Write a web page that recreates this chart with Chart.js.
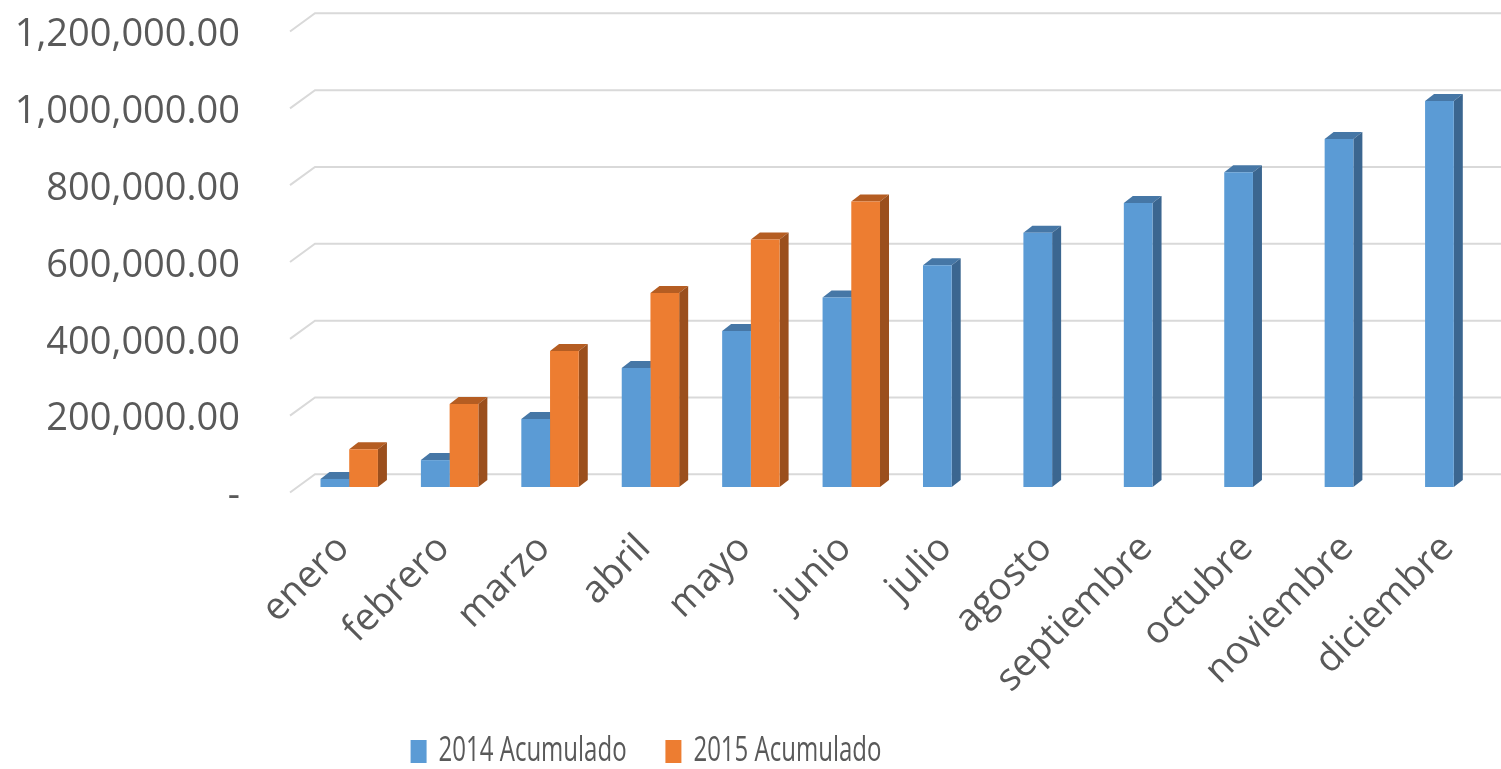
<!DOCTYPE html>
<html><head><meta charset="utf-8">
<script src="https://cdn.jsdelivr.net/npm/chart.js@4.4.1/dist/chart.umd.min.js"></script>
<style>
html,body{margin:0;padding:0;overflow:hidden;background:#fff;width:1501px;height:769px}
#wrap{position:absolute;left:0;top:0;width:1520px;height:769px}
</style>
</head><body><div id="wrap"><canvas id="c" width="1520" height="769"></canvas></div>
<script>
const categories = ['enero','febrero','marzo','abril','mayo','junio','julio','agosto','septiembre','octubre','noviembre','diciembre'];
const acumulado2014 = [21000, 70000, 177000, 310000, 406000, 493000, 577000, 662000, 739000, 819000, 906000, 1005000];
const acumulado2015 = [98000, 216000, 354000, 505000, 644000, 743000, null, null, null, null, null, null];
const yTickLabels = ['-', '200,000.00', '400,000.00', '600,000.00', '800,000.00', '1,000,000.00', '1,200,000.00'];
const seriesNames = ['2014 Acumulado', '2015 Acumulado'];

const frontColors = ['#5b9bd5', '#ed7d31'];
const topColors = ['#4677a6', '#b55d22'];
const sideColors = ['#3b6690', '#9b4f1d'];
const TEXT = '#595959';

const DEPTH_X = 9, DEPTH_Y = -7;
const GRID_BACK_DY = -12.7, GRID_FRONT_DY = 5.5, WALL_LEFT = 290, WALL_BACK = 315;
const CHART_BOTTOM = 487, Y_AXIS_W = 299;
const LEGEND_FONT = 34, LEGEND_SX = 0.706, LEGEND_PAD = 55, LEGEND_BOX_H = 23, LEGEND_H = 40;
const LEGEND_CX = 646, LEGEND_CY = 751.5;

const depthPlugin = {
  id: 'depth',
  beforeUpdate(chart) {
    const lg = chart.legend;
    if (!lg || lg._wrapped) return;
    const origFit = lg.fit.bind(lg);
    lg.fit = function () { origFit(); if (this.isHorizontal()) this.height = LEGEND_H; };
    lg.draw = function () {
      if (!this.options.display) return;
      const ctx = this.ctx;
      const natCx = (this.left + this.right) / 2;
      const natCy = this.top + LEGEND_PAD + Math.max(LEGEND_FONT, LEGEND_BOX_H) / 2;
      ctx.save();
      ctx.translate(LEGEND_CX, LEGEND_CY - natCy);
      ctx.scale(LEGEND_SX, 1);
      ctx.translate(-natCx, 0);
      this._draw();
      ctx.restore();
    };
    lg._wrapped = true;
  },
  beforeDatasetsDraw(chart) {
    const ctx = chart.ctx, y = chart.scales.y;
    ctx.save();
    ctx.strokeStyle = '#d9d9d9';
    ctx.lineWidth = 2;
    y.ticks.forEach(t => {
      const py = y.getPixelForValue(t.value);
      ctx.beginPath();
      ctx.moveTo(WALL_LEFT, py + GRID_FRONT_DY);
      ctx.lineTo(WALL_BACK, py + GRID_BACK_DY);
      ctx.lineTo(chart.width, py + GRID_BACK_DY);
      ctx.stroke();
    });
    chart.data.datasets.forEach((ds, di) => {
      const meta = chart.getDatasetMeta(di);
      meta.data.forEach((bar, i) => {
        if (ds.data[i] == null) return;
        const p = bar.getProps(['x', 'y', 'base', 'width'], true);
        const l = p.x - p.width / 2, r = p.x + p.width / 2;
        ctx.fillStyle = topColors[di];
        ctx.beginPath();
        ctx.moveTo(l, p.y); ctx.lineTo(r, p.y);
        ctx.lineTo(r + DEPTH_X, p.y + DEPTH_Y); ctx.lineTo(l + DEPTH_X, p.y + DEPTH_Y);
        ctx.closePath(); ctx.fill();
        ctx.fillStyle = sideColors[di];
        ctx.beginPath();
        ctx.moveTo(r, p.y); ctx.lineTo(r + DEPTH_X, p.y + DEPTH_Y);
        ctx.lineTo(r + DEPTH_X, p.base + DEPTH_Y); ctx.lineTo(r, p.base);
        ctx.closePath(); ctx.fill();
      });
    });
    ctx.restore();
  }
};

function draw() {
  new Chart(document.getElementById('c'), {
    type: 'bar',
    data: {
      labels: categories,
      datasets: [
        { label: seriesNames[0], data: acumulado2014, backgroundColor: frontColors[0], categoryPercentage: 0.572, barPercentage: 1.0 },
        { label: seriesNames[1], data: acumulado2015, backgroundColor: frontColors[1], categoryPercentage: 0.572, barPercentage: 1.0 }
      ]
    },
    options: {
      responsive: false,
      animation: false,
      layout: { padding: { top: 26, right: 16, left: 0, bottom: 0 } },
      plugins: {
        tooltip: { enabled: false },
        legend: {
          position: 'bottom',
          labels: {
            boxWidth: 16 / LEGEND_SX, boxHeight: LEGEND_BOX_H, padding: LEGEND_PAD, color: TEXT,
            font: { family: '"Open Sans", sans-serif', size: LEGEND_FONT }
          }
        }
      },
      scales: {
        y: {
          min: 0, max: 1200000,
          grid: { display: false, drawTicks: false },
          border: { display: false },
          ticks: {
            stepSize: 200000, padding: 59, labelOffset: 9.5, color: TEXT,
            font: { family: '"Open Sans", sans-serif', size: 38 },
            callback: (v, i) => yTickLabels[i]
          },
          afterFit: (s) => { s.width = Y_AXIS_W; s.paddingTop = 0; s.paddingBottom = 0; }
        },
        x: {
          grid: { display: false, drawTicks: false },
          border: { display: false },
          ticks: {
            minRotation: 45, maxRotation: 45, autoSkip: false, padding: 39, labelOffset: -6, color: TEXT,
            font: { family: '"Open Sans", sans-serif', size: 38 }
          },
          afterFit: (s) => {
            const lh = s.chart.legend ? s.chart.legend.height : 0;
            s.height = s.chart.height - lh - CHART_BOTTOM;
            s.paddingLeft = 0; s.paddingRight = 0;
          }
        }
      }
    },
    plugins: [depthPlugin]
  });
}
document.fonts.load('38px "Open Sans"').then(draw, draw);
</script>
</body></html>
